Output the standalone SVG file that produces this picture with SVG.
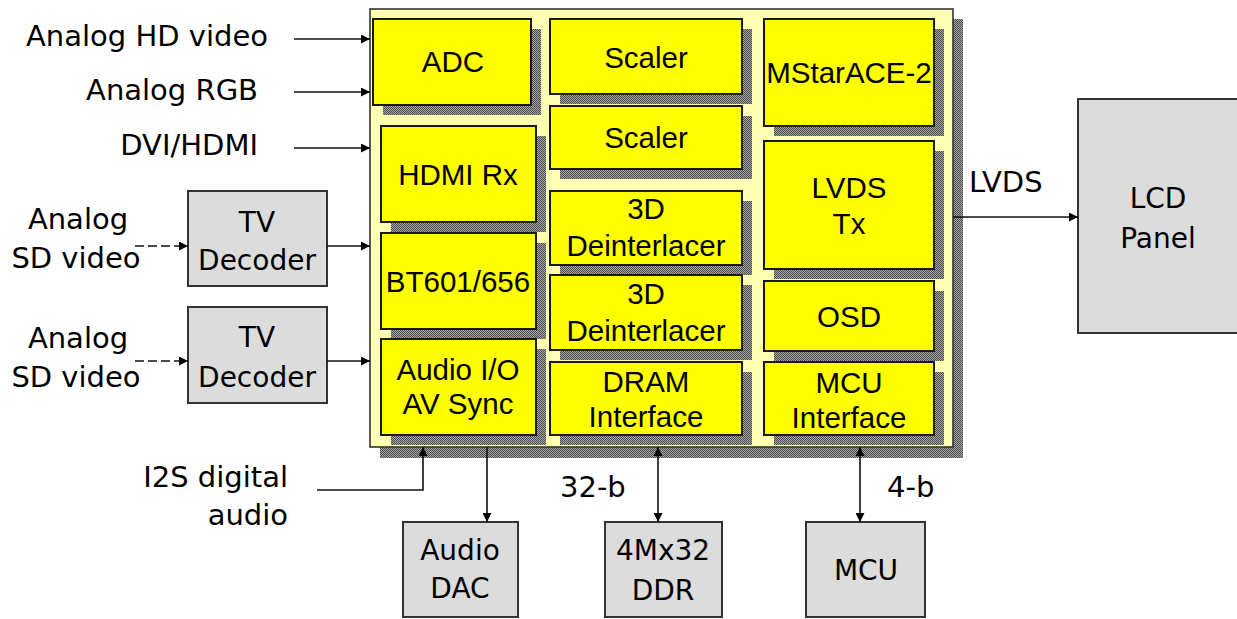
<svg xmlns="http://www.w3.org/2000/svg" width="1237" height="619" viewBox="0 0 1237 619">
<style>
.lbl{font-family:"DejaVu Sans",Verdana,sans-serif;font-size:29px;fill:#000}
.blk{font-family:"Liberation Sans",Arial,sans-serif;font-size:29.5px;fill:#000;text-anchor:middle}
.ext{font-family:"DejaVu Sans",Verdana,sans-serif;font-size:28px;fill:#000;text-anchor:middle}
.y{fill:#ffff00;stroke:#1a1a1a;stroke-width:2}
.g{fill:#dcdcdc;stroke:#333;stroke-width:2}
.sh{fill:url(#dots)}
.ln{fill:none;stroke:#111;stroke-width:1.6}
.ar{marker-end:url(#ah)}
.bi{marker-start:url(#ah);marker-end:url(#ah)}
.da{stroke-dasharray:9 4}
</style>
<defs>
<pattern id="dots" width="2" height="2" patternUnits="userSpaceOnUse">
<rect width="2" height="2" fill="#a8a8a8"/>
<rect width="1" height="1" fill="#4a4a4a"/>
<rect x="1" y="1" width="1" height="1" fill="#4a4a4a"/>
</pattern>
<marker id="ah" viewBox="0 0 10 10" refX="10" refY="5" markerWidth="10" markerHeight="9" markerUnits="userSpaceOnUse" orient="auto-start-reverse">
<path d="M0,0 L10,5 L0,10 z" fill="#000"/>
</marker>
</defs>
<rect width="1237" height="619" fill="#fff"/>

<g id="chip">
<rect class="sh" x="380" y="19" width="583" height="439"/>
<rect x="370" y="9" width="583" height="438" fill="#ffffb4" stroke="#333" stroke-width="1.6"/>
</g>

<g id="adc"><rect class="sh" x="383" y="29" width="158" height="86"/><rect class="y" x="373" y="19" width="158" height="86"/><text class="blk" x="453" y="72">ADC</text></g>
<g id="hdmirx"><rect class="sh" x="391" y="136" width="155" height="96"/><rect class="y" x="381" y="126" width="155" height="96"/><text class="blk" x="458" y="185">HDMI Rx</text></g>
<g id="bt601"><rect class="sh" x="391" y="243" width="155" height="96"/><rect class="y" x="381" y="233" width="155" height="96"/><text class="blk" x="458" y="292">BT601/656</text></g>
<g id="audioio"><rect class="sh" x="391" y="349" width="155" height="96"/><rect class="y" x="381" y="339" width="155" height="96"/><text class="blk" x="458" y="380">Audio I/O</text><text class="blk" x="458" y="414">AV Sync</text></g>

<g id="scaler1"><rect class="sh" x="560" y="29" width="192" height="75"/><rect class="y" x="550" y="19" width="192" height="75"/><text class="blk" x="646" y="68">Scaler</text></g>
<g id="scaler2"><rect class="sh" x="560" y="116" width="192" height="63"/><rect class="y" x="550" y="106" width="192" height="63"/><text class="blk" x="646" y="148">Scaler</text></g>
<g id="deint1"><rect class="sh" x="560" y="201" width="192" height="74"/><rect class="y" x="550" y="191" width="192" height="74"/><text class="blk" x="646" y="219">3D</text><text class="blk" x="646" y="256">Deinterlacer</text></g>
<g id="deint2"><rect class="sh" x="560" y="285" width="192" height="75"/><rect class="y" x="550" y="275" width="192" height="75"/><text class="blk" x="646" y="304">3D</text><text class="blk" x="646" y="341">Deinterlacer</text></g>
<g id="dram"><rect class="sh" x="560" y="372" width="192" height="73"/><rect class="y" x="550" y="362" width="192" height="73"/><text class="blk" x="646" y="392">DRAM</text><text class="blk" x="646" y="427">Interface</text></g>

<g id="mstarace"><rect class="sh" x="774" y="29" width="170" height="107"/><rect class="y" x="764" y="19" width="170" height="107"/><text class="blk" x="849" y="83">MStarACE-2</text></g>
<g id="lvdstx"><rect class="sh" x="774" y="151" width="170" height="128"/><rect class="y" x="764" y="141" width="170" height="128"/><text class="blk" x="849" y="198">LVDS</text><text class="blk" x="849" y="234">Tx</text></g>
<g id="osd"><rect class="sh" x="774" y="291" width="170" height="70"/><rect class="y" x="764" y="281" width="170" height="70"/><text class="blk" x="849" y="327">OSD</text></g>
<g id="mcuif"><rect class="sh" x="774" y="372" width="170" height="73"/><rect class="y" x="764" y="362" width="170" height="73"/><text class="blk" x="849" y="393">MCU</text><text class="blk" x="849" y="428">Interface</text></g>

<g id="tvdec1"><rect class="g" x="188" y="191" width="139" height="95"/><text class="ext" x="257" y="232">TV</text><text class="ext" x="257" y="270">Decoder</text></g>
<g id="tvdec2"><rect class="g" x="188" y="307" width="139" height="96"/><text class="ext" x="257" y="347">TV</text><text class="ext" x="257" y="387">Decoder</text></g>
<g id="audiodac"><rect class="g" x="403" y="522" width="115" height="95"/><text class="ext" x="460" y="560">Audio</text><text class="ext" x="460" y="598">DAC</text></g>
<g id="ddr"><rect class="g" x="605" y="522" width="117" height="95"/><text class="ext" x="663" y="560">4Mx32</text><text class="ext" x="663" y="600">DDR</text></g>
<g id="mcu"><rect class="g" x="806" y="522" width="119" height="95"/><text class="ext" x="866" y="580">MCU</text></g>
<g id="lcd"><rect class="g" x="1078" y="99" width="165" height="234"/><text class="ext" x="1158" y="208">LCD</text><text class="ext" x="1158" y="248">Panel</text></g>

<g id="labels">
<text class="lbl" x="268" y="46" text-anchor="end">Analog HD video</text>
<text class="lbl" x="258" y="100" text-anchor="end">Analog RGB</text>
<text class="lbl" x="258" y="155" text-anchor="end">DVI/HDMI</text>
<text class="lbl" x="78" y="229" text-anchor="middle">Analog</text>
<text class="lbl" x="76" y="268" text-anchor="middle">SD video</text>
<text class="lbl" x="78" y="348" text-anchor="middle">Analog</text>
<text class="lbl" x="76" y="387" text-anchor="middle">SD video</text>
<text class="lbl" x="288" y="487" text-anchor="end">I2S digital</text>
<text class="lbl" x="288" y="525" text-anchor="end">audio</text>
<text class="lbl" x="560" y="497">32-b</text>
<text class="lbl" x="887" y="497">4-b</text>
<text class="lbl" x="969" y="192">LVDS</text>
</g>

<g id="connectors">
<path class="ln ar" d="M294,39 H370"/>
<path class="ln ar" d="M294,92 H370"/>
<path class="ln ar" d="M294,148 H370"/>
<path class="ln ar da" d="M135,246 H188"/>
<path class="ln ar da" d="M135,361 H188"/>
<path class="ln ar" d="M327,246 H370"/>
<path class="ln ar" d="M327,361 H370"/>
<path class="ln ar" d="M317,490 H423 V447"/>
<path class="ln ar" d="M487,447 V522"/>
<path class="ln bi" d="M658,447 V522"/>
<path class="ln bi" d="M860,447 V522"/>
<path class="ln ar" d="M953,217 H1078"/>
</g>
</svg>
